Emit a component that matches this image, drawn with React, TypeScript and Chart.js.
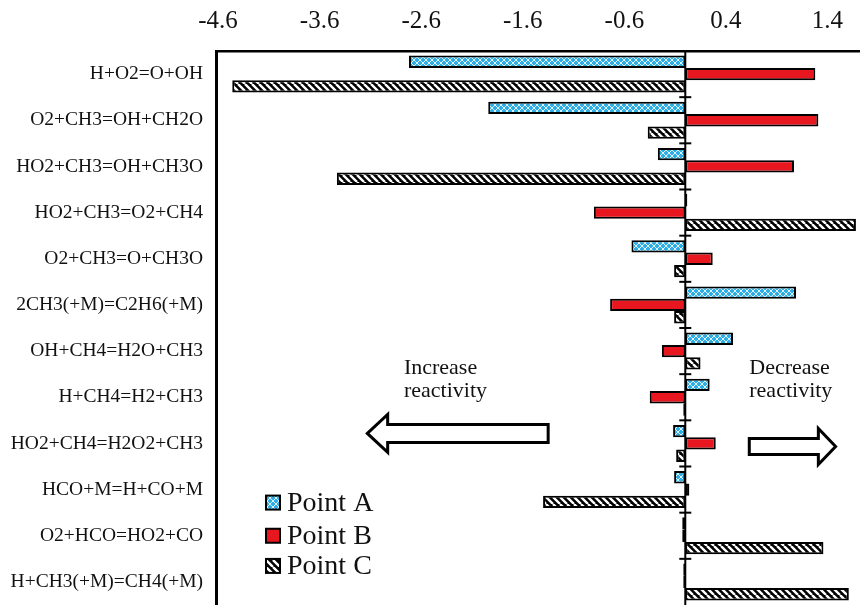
import React, { useEffect, useRef } from "react";
import { Chart, registerables } from "chart.js";

Chart.register(...registerables);

const categories = [
  "H+O2=O+OH",
  "O2+CH3=OH+CH2O",
  "HO2+CH3=OH+CH3O",
  "HO2+CH3=O2+CH4",
  "O2+CH3=O+CH3O",
  "2CH3(+M)=C2H6(+M)",
  "OH+CH4=H2O+CH3",
  "H+CH4=H2+CH3",
  "HO2+CH4=H2O2+CH3",
  "HCO+M=H+CO+M",
  "O2+HCO=HO2+CO",
  "H+CH3(+M)=CH4(+M)",
];

const pointA = [-2.72, -1.94, -0.27, 0.02, -0.53, 1.09, 0.47, 0.24, -0.12, -0.11, -0.03, -0.02];
const pointB = [1.28, 1.31, 1.07, -0.9, 0.27, -0.74, -0.23, -0.35, 0.3, 0.04, -0.03, -0.02];
const pointC = [-4.46, -0.37, -3.43, 1.68, -0.11, -0.11, 0.15, -0.02, -0.09, -1.4, 1.36, 1.61];

const seriesNames = ["Point A", "Point B", "Point C"];
const xTicks = [-4.6, -3.6, -2.6, -1.6, -0.6, 0.4, 1.4];
const xMin = -4.62;
const xMax = 1.72;

const SERIF = "'Liberation Serif', 'Times New Roman', serif";

function makePatternA(): CanvasPattern | string {
  const c = document.createElement("canvas");
  c.width = 6;
  c.height = 6;
  const g = c.getContext("2d");
  if (!g) return "#2eaee4";
  g.fillStyle = "#2eaee4";
  g.fillRect(0, 0, 6, 6);
  g.strokeStyle = "rgba(255,255,255,0.85)";
  g.lineWidth = 1;
  g.beginPath();
  g.moveTo(0, 0);
  g.lineTo(6, 6);
  g.moveTo(6, 0);
  g.lineTo(0, 6);
  g.stroke();
  const p = g.createPattern(c, "repeat");
  return p || "#2eaee4";
}

function makePatternC(): CanvasPattern | string {
  const s = 7;
  const c = document.createElement("canvas");
  c.width = s;
  c.height = s;
  const g = c.getContext("2d");
  if (!g) return "#000";
  g.fillStyle = "#000";
  g.fillRect(0, 0, s, s);
  g.strokeStyle = "#fff";
  g.lineWidth = 2.4;
  g.beginPath();
  for (const off of [-s, 0, s]) {
    g.moveTo(off, 0);
    g.lineTo(off + s, s);
  }
  g.stroke();
  const p = g.createPattern(c, "repeat");
  return p || "#000";
}

const decorPlugin = {
  id: "decor",
  afterDatasetsDraw(chart: any) {
    const { ctx, chartArea, scales } = chart;
    const x = scales.x;
    const x0 = x.getPixelForValue(0);
    ctx.save();
    ctx.strokeStyle = "#000";
    ctx.lineWidth = 2;
    ctx.beginPath();
    ctx.moveTo(x0, chartArea.top);
    ctx.lineTo(x0, chartArea.bottom);
    ctx.stroke();
    const n = categories.length;
    const step = (chartArea.bottom - chartArea.top) / n;
    for (let i = 1; i < n; i++) {
      const yy = chartArea.top + i * step;
      ctx.beginPath();
      ctx.moveTo(x0 - 6, yy);
      ctx.lineTo(x0 + 6, yy);
      ctx.stroke();
    }
    ctx.restore();
  },
  afterDraw(chart: any) {
    const { ctx, chartArea, scales } = chart;
    const x = scales.x;
    const step = (chartArea.bottom - chartArea.top) / categories.length;
    const rowY = (i: number) => chartArea.top + (i + 0.5) * step;
    ctx.save();
    // legend
    const fills = chart.data.datasets.map((d: any) => d.backgroundColor);
    ctx.font = `28px ${SERIF}`;
    ctx.textBaseline = "middle";
    ctx.textAlign = "left";
    const lx = chartArea.left + 50;
    const legendY = [rowY(9) + 13, rowY(10) + 0, rowY(11) - 16];
    seriesNames.forEach((name, i) => {
      const cy = legendY[i];
      ctx.fillStyle = fills[i];
      ctx.fillRect(lx, cy - 7, 14, 14);
      ctx.lineWidth = 2;
      ctx.strokeStyle = "#000";
      ctx.strokeRect(lx, cy - 7, 14, 14);
      ctx.fillStyle = "#111";
      ctx.fillText(name, lx + 21, cy + 1);
    });

    // annotations
    ctx.font = `22px ${SERIF}`;
    ctx.fillStyle = "#111";
    ctx.textBaseline = "middle";
    const tY1 = rowY(6) + 17;
    const tY2 = tY1 + 23;
    const incX = x.getPixelForValue(-2.77);
    ctx.fillText("Increase", incX, tY1);
    ctx.fillText("reactivity", incX, tY2);
    const decX = x.getPixelForValue(0.63);
    ctx.fillText("Decrease", decX, tY1);
    ctx.fillText("reactivity", decX, tY2);

    // left arrow
    ctx.lineWidth = 3;
    ctx.strokeStyle = "#000";
    ctx.fillStyle = "#fff";
    const ly = rowY(8) - 10;
    const lTip = x.getPixelForValue(-3.13);
    const lBase = x.getPixelForValue(-2.93);
    const lEnd = x.getPixelForValue(-1.35);
    ctx.beginPath();
    ctx.moveTo(lTip, ly);
    ctx.lineTo(lBase, ly - 19);
    ctx.lineTo(lBase, ly - 9);
    ctx.lineTo(lEnd, ly - 9);
    ctx.lineTo(lEnd, ly + 9);
    ctx.lineTo(lBase, ly + 9);
    ctx.lineTo(lBase, ly + 19);
    ctx.closePath();
    ctx.fill();
    ctx.stroke();

    // right arrow
    const ry = rowY(8) + 3;
    const rStart = x.getPixelForValue(0.63);
    const rBase = x.getPixelForValue(1.31);
    const rTip = x.getPixelForValue(1.48);
    ctx.beginPath();
    ctx.moveTo(rTip, ry);
    ctx.lineTo(rBase, ry - 18);
    ctx.lineTo(rBase, ry - 8);
    ctx.lineTo(rStart, ry - 8);
    ctx.lineTo(rStart, ry + 8);
    ctx.lineTo(rBase, ry + 8);
    ctx.lineTo(rBase, ry + 18);
    ctx.closePath();
    ctx.fill();
    ctx.stroke();
    ctx.restore();
  },
};

export default function App() {
  const ref = useRef<HTMLCanvasElement | null>(null);
  useEffect(() => {
    if (!ref.current) return;
    const patA = makePatternA();
    const patC = makePatternC();
    const common = {
      borderColor: "#000",
      borderWidth: 2,
      borderSkipped: false,
      barPercentage: 1,
      categoryPercentage: 0.8,
    };
    const chart = new Chart(ref.current, {
      type: "bar",
      data: {
        labels: categories,
        datasets: [
          { label: seriesNames[0], data: pointA, backgroundColor: patA as any, ...common },
          { label: seriesNames[1], data: pointB, backgroundColor: "#e8161e", ...common },
          { label: seriesNames[2], data: pointC, backgroundColor: patC as any, ...common },
        ],
      },
      options: {
        indexAxis: "y",
        animation: false,
        responsive: true,
        maintainAspectRatio: false,
        layout: { padding: { left: 0, right: 0, top: 0, bottom: 0 } },
        plugins: {
          legend: { display: false },
          tooltip: { enabled: false },
          title: { display: false },
        },
        scales: {
          x: {
            type: "linear",
            position: "top",
            min: xMin,
            max: xMax,
            grid: { display: false, drawTicks: false },
            border: { display: true, color: "#000", width: 2.5 },
            afterBuildTicks: (scale: any) => {
              scale.ticks = xTicks.map((v) => ({ value: v }));
            },
            afterFit: (scale: any) => {
              scale.height = 51;
              scale.paddingLeft = 0;
              scale.paddingRight = 0;
            },
            ticks: {
              padding: 15,
              color: "#111",
              font: { family: SERIF, size: 25 },
              callback: (v: any) => String(Math.round(Number(v) * 10) / 10),
              maxRotation: 0,
              autoSkip: false,
            },
          },
          y: {
            type: "category",
            position: "left",
            grid: { display: false, drawTicks: false },
            border: { display: true, color: "#000", width: 3 },
            afterFit: (scale: any) => {
              scale.width = 216;
              scale.paddingTop = 0;
              scale.paddingBottom = 0;
            },
            ticks: {
              padding: 13,
              color: "#111",
              font: { family: SERIF, size: 19.5 },
              autoSkip: false,
            },
          },
        },
      } as any,
      plugins: [decorPlugin],
    });
    return () => chart.destroy();
  }, []);

  return (
    <div style={{ position: "absolute", left: 0, top: 0, width: 860, height: 605, background: "#fff" }}>
      <canvas ref={ref} />
    </div>
  );
}
